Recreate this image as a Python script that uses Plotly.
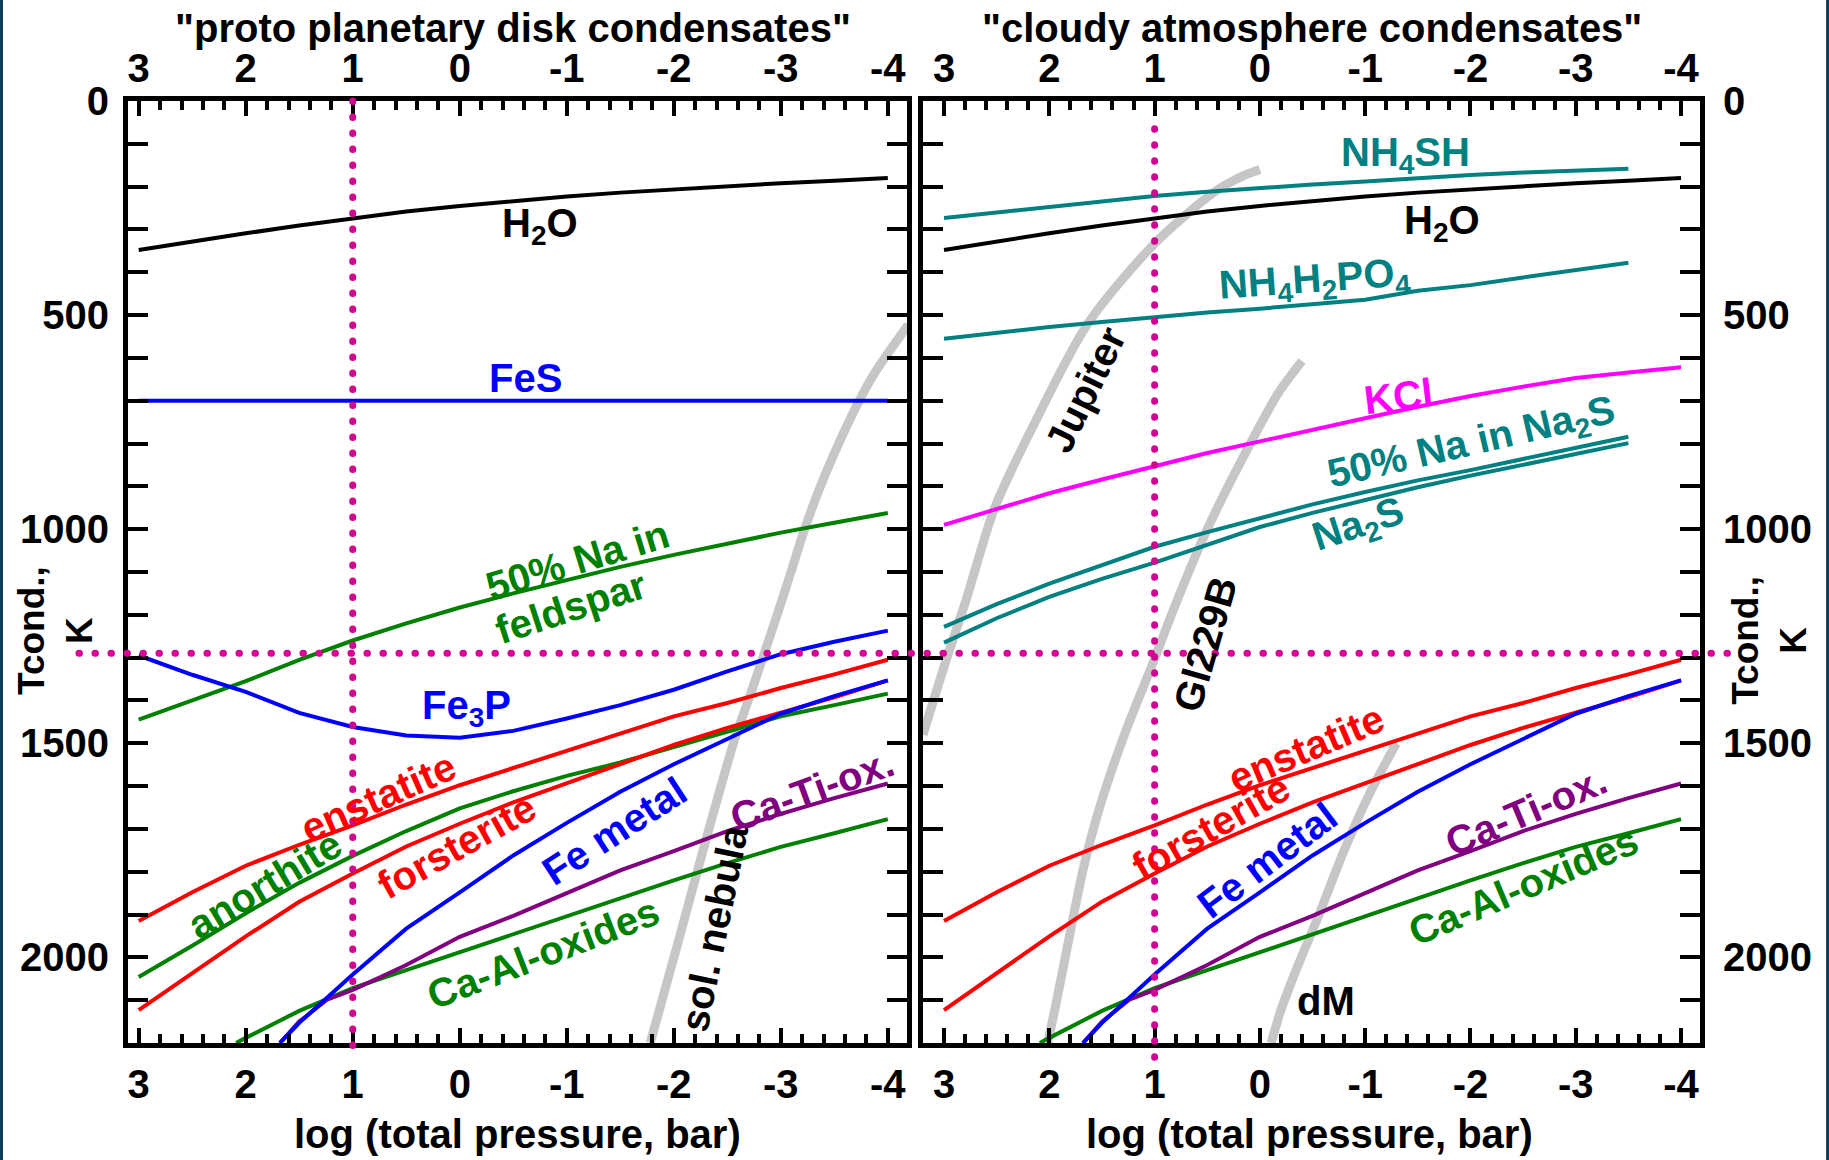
import plotly.graph_objects as go

# ---------------- data ----------------
P = [3, 2.5, 2, 1.5, 1, 0.5, 0, -0.5, -1, -1.5, -2, -2.5, -3, -3.5, -4]
P35 = [3, 2.5, 2, 1.5, 1, 0.5, 0, -0.5, -1, -1.5, -2, -2.5, -3, -3.5]

H2O_T = [348, 328, 309, 291, 274, 258, 245, 233, 223, 214, 206, 199, 192, 186, 180]
FES_P = [3, -4]
FES_T = [700, 700]
FELDSPAR_T = [1445, 1400, 1355, 1305, 1260, 1220, 1183, 1150, 1118, 1088, 1060, 1033, 1008, 985, 962]
FE3P_T = [1295, 1340, 1380, 1429, 1462, 1482, 1487, 1471, 1442, 1411, 1375, 1332, 1292, 1263, 1237]
ENSTATITE_T = [1915, 1848, 1786, 1737, 1692, 1643, 1598, 1558, 1518, 1478, 1437, 1406, 1371, 1339, 1305]
FORSTERITE_T = [2123, 2036, 1951, 1870, 1804, 1741, 1688, 1638, 1594, 1549, 1504, 1464, 1429, 1393, 1353]
ANORTHITE_T = [2046, 1973, 1897, 1826, 1763, 1705, 1652, 1612, 1576, 1545, 1509, 1473, 1437, 1411, 1384]

FEMETAL_P = [1.68, 1.5, 1, 0.5, 0, -0.5, -1, -1.5, -2, -2.5, -3, -3.5, -4]
FEMETAL_T = [2200, 2153, 2040, 1933, 1848, 1762, 1686, 1613, 1549, 1490, 1431, 1390, 1353]
CATIOX_P = [1.68, 1.5, 1.24, 1.0, 0.73, 0.5, 0, -0.5, -1, -1.5, -2, -2.5, -3, -3.5, -4]
CATIOX_T = [2200, 2150, 2099, 2076, 2045, 2018, 1952, 1903, 1850, 1797, 1752, 1705, 1665, 1628, 1594]
CAAL_P = [2.09, 2, 1.5, 1, 0.5, 0, -0.5, -1, -1.5, -2, -2.5, -3, -3.5, -4]
CAAL_T = [2200, 2188, 2125, 2072, 2030, 1988, 1945, 1903, 1860, 1820, 1780, 1742, 1710, 1677]

NH4SH_T = [273, 260, 247, 234, 222, 212, 203, 195, 188, 180, 173, 167, 162, 158]
NH4H2PO4_T = [555, 541, 528, 516, 504, 494, 485, 475, 464, 443, 430, 412, 395, 378]
KCL_T = [990, 952, 916, 884, 853, 822, 795, 767, 741, 714, 689, 667, 647, 634, 622]
NA50_T = [1228, 1175, 1127, 1083, 1041, 1007, 974, 942, 913, 886, 862, 836, 812, 784]
NA2S_T = [1265, 1208, 1158, 1116, 1078, 1036, 995, 962, 931, 902, 875, 850, 826, 799]

SOLNEB_P = [-1.78, -2.04, -2.30, -2.57, -2.72, -2.845, -2.97, -3.095, -3.22, -3.345, -3.50, -3.72, -3.875, -4.19]
SOLNEB_T = [2200, 1965, 1726, 1490, 1383, 1290, 1197, 1100, 1002, 916, 823, 706, 636, 523]
JUPITER_P = [0.0, 0.16, 0.44, 1.0, 1.635, 2.158, 2.52, 2.79, 2.98, 3.2]
JUPITER_T = [160, 175, 214, 333, 520, 761, 951, 1165, 1306, 1480]
GL229B_P = [-0.40, -0.18, 0.08, 0.50, 0.80, 1.02, 1.27, 1.52, 1.68, 1.81, 1.935, 2.015]
GL229B_T = [607, 680, 795, 1000, 1175, 1315, 1469, 1648, 1796, 1952, 2107, 2200]
DM_P = [-1.296, -1.043, -0.789, -0.567, -0.345, -0.20, -0.107]
DM_T = [1500, 1617, 1757, 1897, 2029, 2123, 2200]

P_REF = 1          # vertical dotted reference (log P = 1)
T_REF = 1290       # horizontal dotted reference temperature

XTICKS = [3, 2, 1, 0, -1, -2, -3, -4]
XTICK_TEXT = ['3', '2', '1', '0', '-1', '-2', '-3', '-4']
YTICKS = [0, 500, 1000, 1500, 2000]
YTICK_TEXT = ['0', '500', '1000', '1500', '2000']

TITLE_L = '"proto planetary disk condensates"'
TITLE_R = '"cloudy atmosphere condensates"'
XTITLE = 'log (total pressure, bar)'
YTITLE = 'Tcond.,<br>K'

# ---------------- styling ----------------
FONT = 'Liberation Sans, Arial, Helvetica, sans-serif'
BLUE = '#0000ff'
RED = '#ff0000'
GREEN = '#008000'
PURPLE = '#800080'
TEAL = '#008080'
MAGENTA = '#ff00ff'
GRAY = '#c6c6c6'
PINK = '#d1058f'
FRAME = '#0e3c55'

RANGE_L = [3.10, -4.18]
RANGE_R = [3.20, -4.18]
T_RANGE = [2200, 0]

fig = go.Figure()


def add_line(xs, ys, color, width, panel, shape='linear'):
    xa, ya = ('x', 'y') if panel == 1 else ('x2', 'y2')
    fig.add_trace(go.Scatter(x=xs, y=ys, mode='lines',
                             line=dict(color=color, width=width, shape=shape, smoothing=0.8),
                             xaxis=xa, yaxis=ya, hoverinfo='skip', showlegend=False))


# gray model atmospheres (drawn below everything else)
add_line(SOLNEB_P, SOLNEB_T, GRAY, 9, 1, 'spline')
add_line(JUPITER_P, JUPITER_T, GRAY, 9, 2, 'spline')
add_line(GL229B_P, GL229B_T, GRAY, 9, 2, 'spline')
add_line(DM_P, DM_T, GRAY, 9, 2, 'spline')

LW = 4
# left panel
add_line(P, H2O_T, 'black', LW, 1)
add_line(FES_P, FES_T, BLUE, LW, 1)
add_line(P, FELDSPAR_T, GREEN, LW, 1)
add_line(P, FE3P_T, BLUE, LW, 1)
add_line(P, ANORTHITE_T, GREEN, LW, 1)
add_line(P, ENSTATITE_T, RED, LW, 1)
add_line(P, FORSTERITE_T, RED, LW, 1)
add_line(CAAL_P, CAAL_T, GREEN, LW, 1)
add_line(CATIOX_P, CATIOX_T, PURPLE, LW, 1)
add_line(FEMETAL_P, FEMETAL_T, BLUE, LW, 1)
# right panel
add_line(P35, NH4SH_T, TEAL, LW, 2)
add_line(P, H2O_T, 'black', LW, 2)
add_line(P35, NH4H2PO4_T, TEAL, LW, 2)
add_line(P, KCL_T, MAGENTA, LW, 2)
add_line(P35, NA50_T, TEAL, LW, 2)
add_line(P35, NA2S_T, TEAL, LW, 2)
add_line(P, ENSTATITE_T, RED, LW, 2)
add_line(P, FORSTERITE_T, RED, LW, 2)
add_line(CAAL_P, CAAL_T, GREEN, LW, 2)
add_line(CATIOX_P, CATIOX_T, PURPLE, LW, 2)
add_line(FEMETAL_P, FEMETAL_T, BLUE, LW, 2)

# empty traces so the top tick-label axes exist
fig.add_trace(go.Scatter(x=[None], y=[None], xaxis='x3', yaxis='y', showlegend=False, hoverinfo='skip'))
fig.add_trace(go.Scatter(x=[None], y=[None], xaxis='x4', yaxis='y2', showlegend=False, hoverinfo='skip'))

# ---------------- labels ----------------
LABELS = [
    ('H<sub>2</sub>O', 1, -0.75, 293, 0, 'black'),
    ('FeS', 1, -0.61, 648, 0, BLUE),
    ('50% Na in', 1, -1.10, 1072, -17, GREEN),
    ('feldspar', 1, -1.04, 1182, -18, GREEN),
    ('Fe<sub>3</sub>P', 1, -0.06, 1418, 0, BLUE),
    ('enstatite', 1, 0.76, 1626, -24, RED),
    ('anorthite', 1, 1.82, 1829, -31, GREEN),
    ('forsterite', 1, 0.03, 1740, -29, RED),
    ('Fe metal', 1, -1.44, 1704, -33, BLUE),
    ('Ca-Ti-ox.', 1, -3.29, 1610, -20, PURPLE),
    ('Ca-Al-oxides', 1, -0.78, 1990, -21, GREEN),
    ('sol. nebula', 1, -2.375, 1931, -78.5, 'black'),
    ('NH<sub>4</sub>SH', 2, -1.38, 125, 0, TEAL),
    ('H<sub>2</sub>O', 2, -1.73, 284, 0, 'black'),
    ('NH<sub>4</sub>H<sub>2</sub>PO<sub>4</sub>', 2, -0.52, 420, -4, TEAL),
    ('Jupiter', 2, 1.66, 675, -64, 'black'),
    ('KCl', 2, -1.32, 689, -7, MAGENTA),
    ('50% Na in Na<sub>2</sub>S', 2, -2.01, 802, -13, TEAL),
    ('Na<sub>2</sub>S', 2, -0.94, 993, -18, TEAL),
    ('Gl229B', 2, 0.52, 1268, -74, 'black'),
    ('enstatite', 2, -0.44, 1512, -23, RED),
    ('forsterite', 2, 0.47, 1695, -29.5, RED),
    ('Fe metal', 2, -0.07, 1773, -37, BLUE),
    ('Ca-Ti-ox.', 2, -2.53, 1659, -23, PURPLE),
    ('Ca-Al-oxides', 2, -2.50, 1833, -23, GREEN),
    ('dM', 2, -0.63, 2102, 0, 'black'),
]

LABEL_SIZE = 40
annotations = []
for text, panel, px, py, ang, col in LABELS:
    annotations.append(dict(
        text=text, x=px, y=py,
        xref='x' if panel == 1 else 'x2', yref='y' if panel == 1 else 'y2',
        showarrow=False, textangle=ang, xanchor='center', yanchor='middle',
        font=dict(family=FONT, size=LABEL_SIZE, color=col, weight='bold')))

BIG = dict(family=FONT, size=40, color='black', weight='bold')
YT = dict(family=FONT, size=37, color='black', weight='bold')
annotations += [
    dict(text=TITLE_L, x=0.2449, y=1.077, xref='paper', yref='paper', showarrow=False,
         xanchor='center', yanchor='middle', font=BIG),
    dict(text=TITLE_R, x=0.7532, y=1.077, xref='paper', yref='paper', showarrow=False,
         xanchor='center', yanchor='middle', font=BIG),
    dict(text=XTITLE, x=0.248, y=-0.0966, xref='paper', yref='paper', showarrow=False,
         xanchor='center', yanchor='middle', font=BIG),
    dict(text=XTITLE, x=0.7517, y=-0.0966, xref='paper', yref='paper', showarrow=False,
         xanchor='center', yanchor='middle', font=BIG),
    dict(text=YTITLE, x=-0.0461, y=0.438, xref='paper', yref='paper', showarrow=False,
         textangle=-90, xanchor='center', yanchor='middle', font=YT),
    dict(text=YTITLE, x=1.0445, y=0.428, xref='paper', yref='paper', showarrow=False,
         textangle=-90, xanchor='center', yanchor='middle', font=YT),
]

# ---------------- reference dotted lines ----------------
def xdom(v, rng):
    return (rng[0] - v) / (rng[0] - rng[1])


def ydom(t):
    return (T_RANGE[0] - t) / (T_RANGE[0] - T_RANGE[1])


# a near-zero dash with round caps (set after drawing) gives round dots
DOT = dict(color=PINK, width=7, dash='0.5px,15.5px')
shapes = [
    dict(type='line', xref='paper', yref='y domain', x0=-0.0312, x1=1.0204,
         y0=ydom(T_REF), y1=ydom(T_REF), line=DOT),
    dict(type='line', xref='x domain', yref='y domain', x0=xdom(P_REF, RANGE_L), x1=xdom(P_REF, RANGE_L),
         y0=1.0, y1=ydom(2236), line=DOT),
    dict(type='line', xref='x2 domain', yref='y2 domain', x0=xdom(P_REF, RANGE_R), x1=xdom(P_REF, RANGE_R),
         y0=ydom(65), y1=ydom(2236), line=DOT),
    # dark frame strips at the picture's left and right edges
    dict(type='rect', xref='paper', yref='paper', x0=-0.0815, x1=-0.0795, y0=-0.13, y1=1.12,
         line=dict(width=0), fillcolor=FRAME, layer='above'),
    dict(type='rect', xref='paper', yref='paper', x0=1.0802, x1=1.0825, y0=-0.13, y1=1.12,
         line=dict(width=0), fillcolor=FRAME, layer='above'),
]

# ---------------- axes ----------------
TICKFONT = dict(family=FONT, size=40, color='black', weight='bold')
xbase = dict(tickmode='array', tickvals=XTICKS, ticktext=XTICK_TEXT, ticks='inside', ticklen=15,
             tickwidth=4, tickcolor='black', showline=True, linewidth=5, linecolor='black',
             mirror='allticks', showgrid=False, zeroline=False, tickfont=TICKFONT,
             ticklabelstandoff=2,
             minor=dict(ticks='inside', ticklen=9, tickwidth=3.5, tickcolor='black',
                        dtick=0.2, tick0=0, showgrid=False))
xtop = dict(tickmode='array', tickvals=XTICKS, ticktext=XTICK_TEXT, ticks='', showline=False,
            showgrid=False, zeroline=False, side='top', tickfont=TICKFONT, ticklabelstandoff=10)
ybase = dict(tickmode='array', tickvals=YTICKS, ticktext=YTICK_TEXT, ticks='inside', ticklen=20,
             tickwidth=4, tickcolor='black', showline=True, linewidth=5, linecolor='black',
             mirror='allticks', showgrid=False, zeroline=False, tickfont=TICKFONT, range=T_RANGE,
             domain=[0, 1], ticklabelstandoff=6,
             minor=dict(ticks='inside', ticklen=11, tickwidth=3.5, tickcolor='black',
                        dtick=100, tick0=0, showgrid=False))

fig.update_layout(
    width=1829, height=1160,
    margin=dict(l=128, r=129, t=101, b=117),
    paper_bgcolor='white', plot_bgcolor='white',
    showlegend=False,
    xaxis=dict(xbase, domain=[0, 0.4956], range=RANGE_L, anchor='y'),
    xaxis2=dict(xbase, domain=[0.5057, 1], range=RANGE_R, anchor='y2'),
    xaxis3=dict(xtop, overlaying='x', range=RANGE_L, anchor='y'),
    xaxis4=dict(xtop, overlaying='x2', range=RANGE_R, anchor='y2'),
    yaxis=dict(ybase, anchor='x', side='left'),
    yaxis2=dict(ybase, anchor='x2', side='right', ticklabelstandoff=10),
    annotations=annotations,
    shapes=shapes,
)

POST = """
document.body.style.margin = '0px';
document.querySelectorAll('.shapelayer path').forEach(function (p) {
  var d = p.style.strokeDasharray || '';
  if (d.indexOf('0.5') === 0) { p.style.strokeLinecap = 'round'; }
});
"""

fig.write_html("out.html", config={'displayModeBar': False}, post_script=POST)
